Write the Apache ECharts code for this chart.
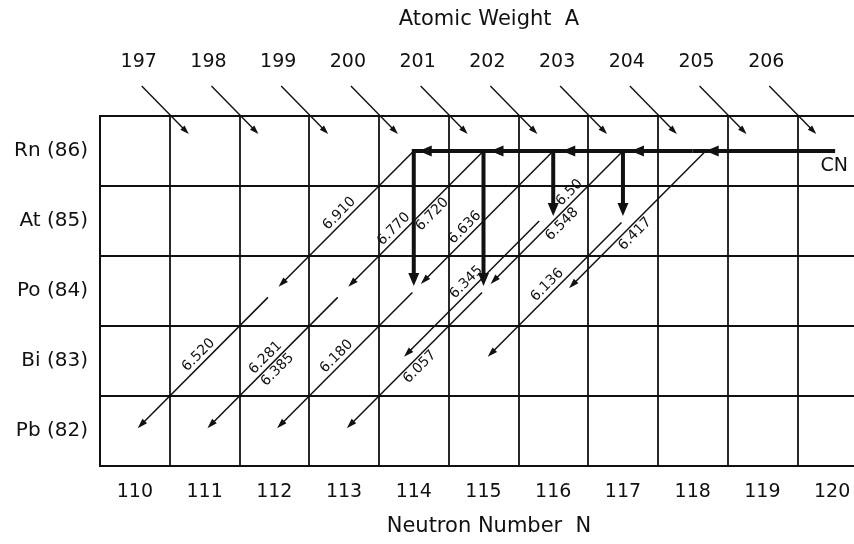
<!DOCTYPE html>
<html>
<head>
<meta charset="utf-8">
<script src="https://cdn.jsdelivr.net/npm/echarts@6/dist/echarts.min.js"></script>
<style>
  html, body { margin: 0; padding: 0; background: #ffffff; overflow: hidden; }
  #chart { width: 880px; height: 544px; }
</style>
</head>
<body>
<div id="chart"></div>
<script>
// ---- data ----
const neutronNumbers = ['110', '111', '112', '113', '114', '115', '116', '117', '118', '119', '120'];
const elementLabels = ['Pb (82)', 'Bi (83)', 'Po (84)', 'At (85)', 'Rn (86)'];
const massNumbers = [197, 198, 199, 200, 201, 202, 203, 204, 205, 206];

// neutron-evaporation chain of the compound nucleus along the Rn row (Z = 86)
const cnChain = [120, 118, 117, 116, 115, 114];

// thick vertical steps: [N, Z from, Z to]
const verticalSteps = [
  [114, 86, 84],
  [115, 86, 84],
  [116, 86, 85],
  [117, 86, 85]
];

// alpha decays (N, Z) -> (N - 2, Z - 2) with their energies in MeV
const alphaParents = [
  [114, 86], [112, 84], [115, 86], [113, 84], [116, 86], [114, 84],
  [117, 86], [115, 84], [116, 85], [117, 85], [118, 86]
];
const alphaEnergies = [
  ['6.910'], ['6.520'], ['6.770', '6.720'], ['6.281', '6.385'], ['6.636'], ['6.180'],
  ['6.50', '6.548'], ['6.057'], ['6.345'], ['6.136'], ['6.417']
];

// ---- drawing style ----
const INK = '#111111';
const FONT = '"DejaVu Sans", "Liberation Sans", sans-serif';
// per alpha line: sideways shift (px), gap at start, gap at end, label placement [t, side]
const alphaLayout = [
  { shift: 0,   gap: 0, end: 6,  labels: [[0.49, -1]] },
  { shift: 0,   gap: 9, end: 4,  labels: [[0.50, -1]] },
  { shift: 0,   gap: 0, end: 6,  labels: [[0.60, -1], [0.41, 1]] },
  { shift: 0,   gap: 9, end: 4,  labels: [[0.52, -1], [0.52, 1]] },
  { shift: 0,   gap: 0, end: 10, labels: [[0.59, -1]] },
  { shift: 0,   gap: 2, end: 4,  labels: [[0.51, -1]] },
  { shift: 0,   gap: 0, end: 10, labels: [[0.34, -1], [0.48, 1]] },
  { shift: 0,   gap: 2, end: 4,  labels: [[0.50, 1]] },
  { shift: -14, gap: 0, end: 6,  labels: [[0.48, -1]] },
  { shift: 0,   gap: 2, end: 6,  labels: [[0.50, -1]] },
  { shift: 13,  gap: 0, end: 4,  labels: [[0.55, 1]] }
];
const cnTipShift = [13, 8, 9, 7, 5];

function arrowHead(tip, ux, uy, len, hw) {
  const bx = tip[0] - ux * len, by = tip[1] - uy * len;
  const px = -uy, py = ux;
  return {
    type: 'polygon',
    shape: { points: [[tip[0], tip[1]], [bx + px * hw, by + py * hw], [bx - px * hw, by - py * hw]] },
    style: { fill: INK }
  };
}

function arrow(p0, tip, width, len, hw) {
  const dx = tip[0] - p0[0], dy = tip[1] - p0[1];
  const l = Math.hypot(dx, dy), ux = dx / l, uy = dy / l;
  return [
    {
      type: 'line',
      shape: { x1: p0[0], y1: p0[1], x2: tip[0] - ux * len * 0.7, y2: tip[1] - uy * len * 0.7 },
      style: { stroke: INK, lineWidth: width, lineCap: 'butt' }
    },
    arrowHead(tip, ux, uy, len, hw)
  ];
}

function textEl(x, y, text, size, rotation) {
  return {
    type: 'text', x: x, y: y, rotation: rotation || 0,
    style: {
      text: text, fill: INK, font: size + 'px ' + FONT,
      align: 'center', verticalAlign: 'middle',
      textAlign: 'center', textVerticalAlign: 'middle'
    }
  };
}

// isobar arrows with mass numbers along the top
function renderIsobar(params, api) {
  const c = api.coord([api.value(0), api.value(1)]);
  const children = arrow([c[0] - 28, c[1] - 30], [c[0] + 19, c[1] + 18], 1.4, 9, 3);
  children.push(textEl(c[0] - 31, 62, String(api.value(2)), 19));
  return { type: 'group', children: children };
}

// thick compound-nucleus chain along the Rn row
function renderChain(params, api) {
  const i = api.value(2);
  const a = api.coord([api.value(0), 86]);
  const b = api.coord([api.value(1), 86]);
  const children = [];
  const startX = i === 0 ? a[0] + 3 : a[0];
  children.push({
    type: 'line',
    shape: { x1: startX, y1: a[1], x2: b[0], y2: b[1] },
    style: { stroke: INK, lineWidth: 4, lineCap: 'butt' }
  });
  children.push(arrowHead([b[0] + cnTipShift[i], b[1]], -1, 0, 13, 5.5));
  if (i === 0) children.push(textEl(a[0] + 2, a[1] + 15, 'CN', 19));
  return { type: 'group', children: children };
}

function renderVertical(params, api) {
  const a = api.coord([api.value(0), api.value(1)]);
  const b = api.coord([api.value(0), api.value(2)]);
  return { type: 'group', children: arrow([a[0], a[1] - 2], [b[0], b[1] - 5], 4, 13, 5.5) };
}

function renderAlpha(params, api) {
  const i = api.value(2);
  const L = alphaLayout[i];
  const n = api.value(0), z = api.value(1);
  const p0 = api.coord([n, z]);
  const p1 = api.coord([n - 2, z - 2]);
  p0[0] += L.shift; p1[0] += L.shift;
  const dx = p1[0] - p0[0], dy = p1[1] - p0[1];
  const len = Math.hypot(dx, dy), ux = dx / len, uy = dy / len;
  const s = [p0[0] + ux * L.gap, p0[1] + uy * L.gap];
  const tip = [p1[0] - ux * L.end, p1[1] - uy * L.end];
  const children = arrow(s, tip, 1.5, 10, 3.2);
  const rot = Math.atan2(uy, -ux);
  alphaEnergies[i].forEach(function (txt, k) {
    const t = L.labels[k][0], side = L.labels[k][1];
    const cx = p0[0] + dx * t + side * 8.5 * uy;
    const cy = p0[1] + dy * t - side * 8.5 * ux;
    children.push(textEl(cx, cy, txt, 14, rot));
  });
  return { type: 'group', children: children };
}

const chart = echarts.init(document.getElementById('chart'), null, { renderer: 'canvas' });

const axisText = { color: INK, fontFamily: FONT, fontSize: 19 };

chart.setOption({
  animation: false,
  backgroundColor: '#ffffff',
  grid: { left: 100, right: 13, top: 116, bottom: 78, show: true, borderColor: INK, borderWidth: 2, backgroundColor: 'transparent' },
  xAxis: [
    {
      type: 'category', data: neutronNumbers, boundaryGap: true,
      axisLine: { show: false }, axisTick: { show: false },
      splitLine: { show: true, lineStyle: { color: INK, width: 1.8 } },
      axisLabel: Object.assign({ margin: 17 }, axisText)
    },
    { type: 'value', min: 109.5, max: 120.5, show: false }
  ],
  yAxis: [
    {
      type: 'category', data: elementLabels, boundaryGap: true,
      axisLine: { show: false }, axisTick: { show: false },
      splitLine: { show: true, lineStyle: { color: INK, width: 1.8 } },
      axisLabel: Object.assign({ margin: 12 }, axisText, { fontSize: 20 })
    },
    { type: 'value', min: 81.5, max: 86.5, show: false }
  ],
  graphic: [
    { type: 'text', x: 489, y: 20, style: { text: 'Atomic Weight  A', font: '21px ' + FONT, fill: INK, align: 'center', verticalAlign: 'middle', textAlign: 'center', textVerticalAlign: 'middle' } },
    { type: 'text', x: 489, y: 527, style: { text: 'Neutron Number  N', font: '21px ' + FONT, fill: INK, align: 'center', verticalAlign: 'middle', textAlign: 'center', textVerticalAlign: 'middle' } }
  ],
  series: [
    {
      type: 'custom', xAxisIndex: 1, yAxisIndex: 1, clip: false, silent: true,
      renderItem: renderIsobar,
      data: massNumbers.map(function (a) { return [a - 86 - 0.5, 86.5, a]; })
    },
    {
      type: 'custom', xAxisIndex: 1, yAxisIndex: 1, clip: false, silent: true,
      renderItem: renderAlpha,
      data: alphaParents.map(function (p, i) { return [p[0], p[1], i]; })
    },
    {
      type: 'custom', xAxisIndex: 1, yAxisIndex: 1, clip: false, silent: true,
      renderItem: renderVertical,
      data: verticalSteps
    },
    {
      type: 'custom', xAxisIndex: 1, yAxisIndex: 1, clip: false, silent: true,
      renderItem: renderChain,
      data: cnChain.slice(0, -1).map(function (n, i) { return [n, cnChain[i + 1], i]; })
    }
  ]
});
</script>
</body>
</html>
